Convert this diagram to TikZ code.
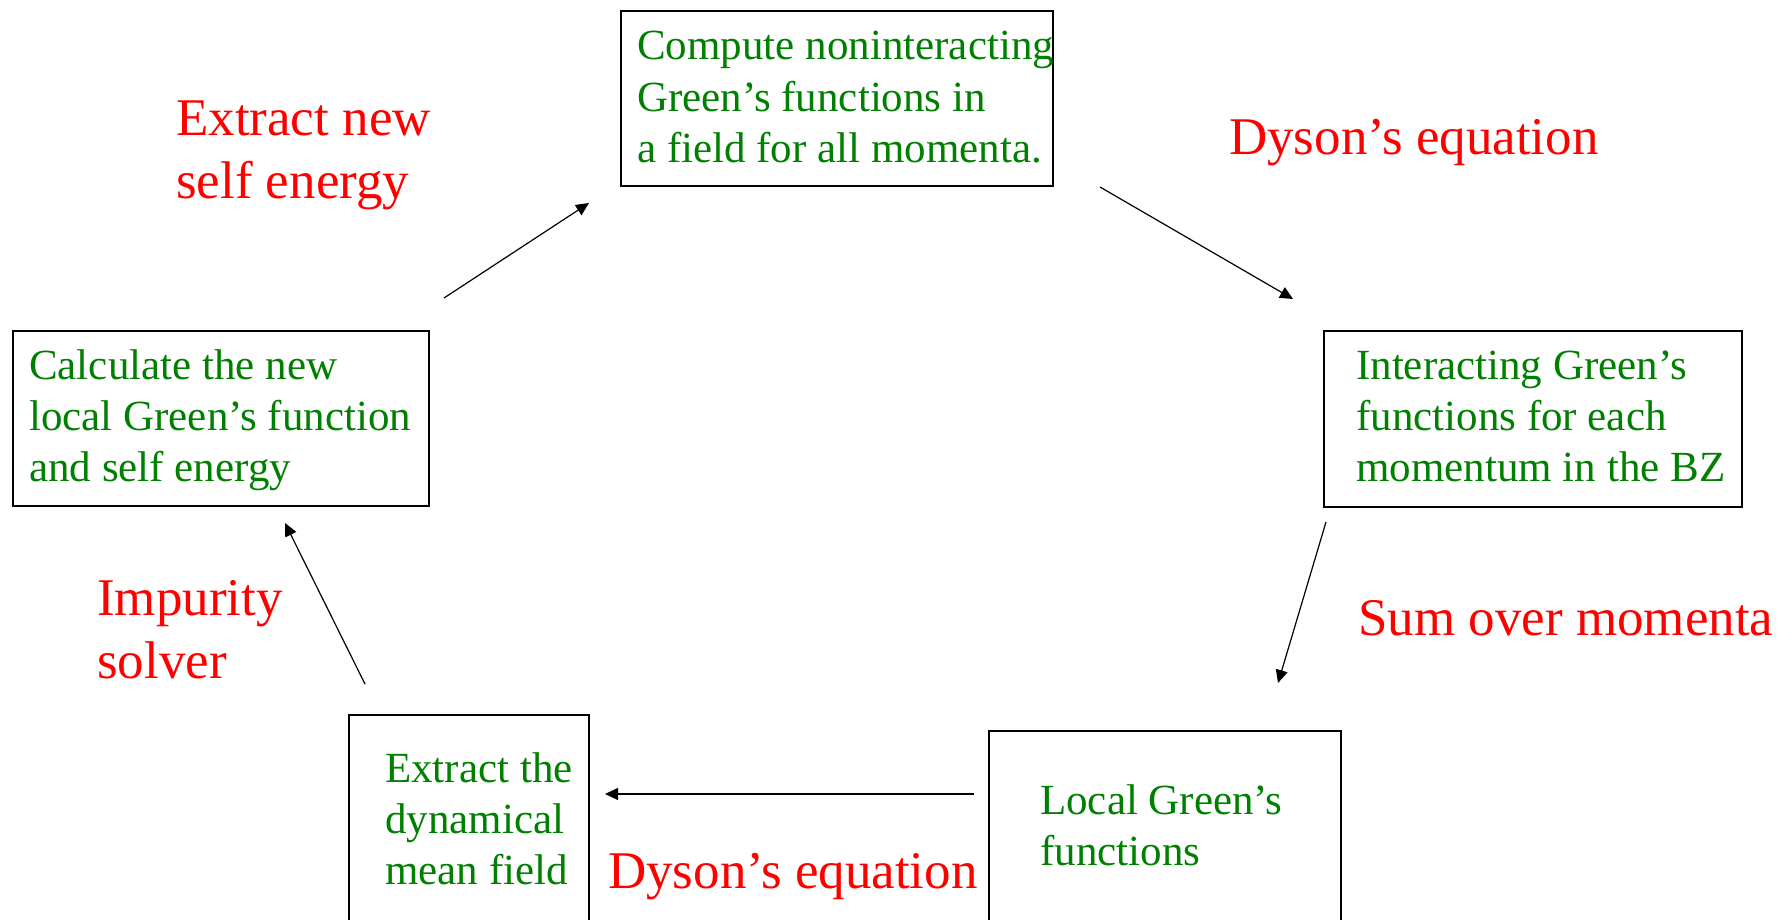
\documentclass[tikz,border=0pt]{standalone}
\usepackage{fontspec}
\usepackage{graphicx}
\setmainfont{Liberation Serif}
\usetikzlibrary{arrows.meta}
\definecolor{pgreen}{RGB}{0,128,0}
\definecolor{pred}{RGB}{255,0,0}
\newcommand{\mlines}[1]{\begin{tabular}[t]{@{}l@{}}#1\end{tabular}}
\begin{document}
\begin{tikzpicture}[x=1pt,y=-1pt,
  box/.style={draw, line width=1.6pt, anchor=north west, inner sep=0pt, outer sep=0pt},
  gtext/.style={text=pgreen, inner sep=0pt, anchor=base west, font=\fontsize{43}{51.3}\selectfont},
  rtext/.style={text=pred, inner sep=0pt, anchor=base west, font=\fontsize{53}{63}\selectfont},
  flow/.style={line width=1.2pt, -{Triangle[length=13pt,width=12pt]}}]
\useasboundingbox (0,0) rectangle (1792,920);
\fill[white] (0,0) rectangle (1792,920);
\clip (0,0) rectangle (1792,920);
% boxes
\node[box, minimum width=432pt, minimum height=175pt] (b1) at (621,11) {};
\node[box, minimum width=416pt, minimum height=175pt] (b2) at (13,331) {};
\node[box, minimum width=418pt, minimum height=176pt] (b3) at (1324,331) {};
\node[box, minimum width=240pt, minimum height=225pt] (b4) at (349,715) {};
\node[box, minimum width=352pt, minimum height=215pt] (b5) at (989,731) {};
% box texts
\node[gtext] (t1) at (637,60) {\mlines{Compute noninteracting\\Green’s functions in\\a field for all momenta.}};
\node[gtext] (t2) at (29,379) {\mlines{Calculate the new\\local Green’s function\\and self energy}};
\node[gtext] (t3) at (1356,379) {\mlines{Interacting Green’s\\functions for each\\momentum in the BZ}};
\node[gtext] (t4) at (385,782) {\mlines{Extract the\\dynamical\\mean field}};
\node[gtext] (t5) at (1040,814) {\mlines{Local Green’s\\functions}};
% red labels
\node[rtext] (l1) at (176,136) {\mlines{Extract new\\self energy}};
\node[rtext] (l2) at (1229,155) {Dyson’s equation};
\node[rtext] (l3) at (1358,635) {Sum over momenta};
\node[rtext] (l4) at (97,615) {\mlines{Impurity\\solver}};
\node[rtext] (l5) at (608,888) {Dyson’s equation};
% arrow end points
\coordinate (a1s) at (444,298); \coordinate (a1e) at (589,203);
\coordinate (a2s) at (1100,187); \coordinate (a2e) at (1293,299);
\coordinate (a3s) at (1326,522); \coordinate (a3e) at (1278,683);
\coordinate (a4s) at (974,794); \coordinate (a4e) at (605,794);
\coordinate (a5s) at (365,684); \coordinate (a5e) at (285,523);
\draw[flow] (a1s) -- (a1e);
\draw[flow] (a2s) -- (a2e);
\draw[flow] (a3s) -- (a3e);
\draw[flow] (a4s) -- (a4e);
\draw[flow] (a5s) -- (a5e);
\end{tikzpicture}
\end{document}
